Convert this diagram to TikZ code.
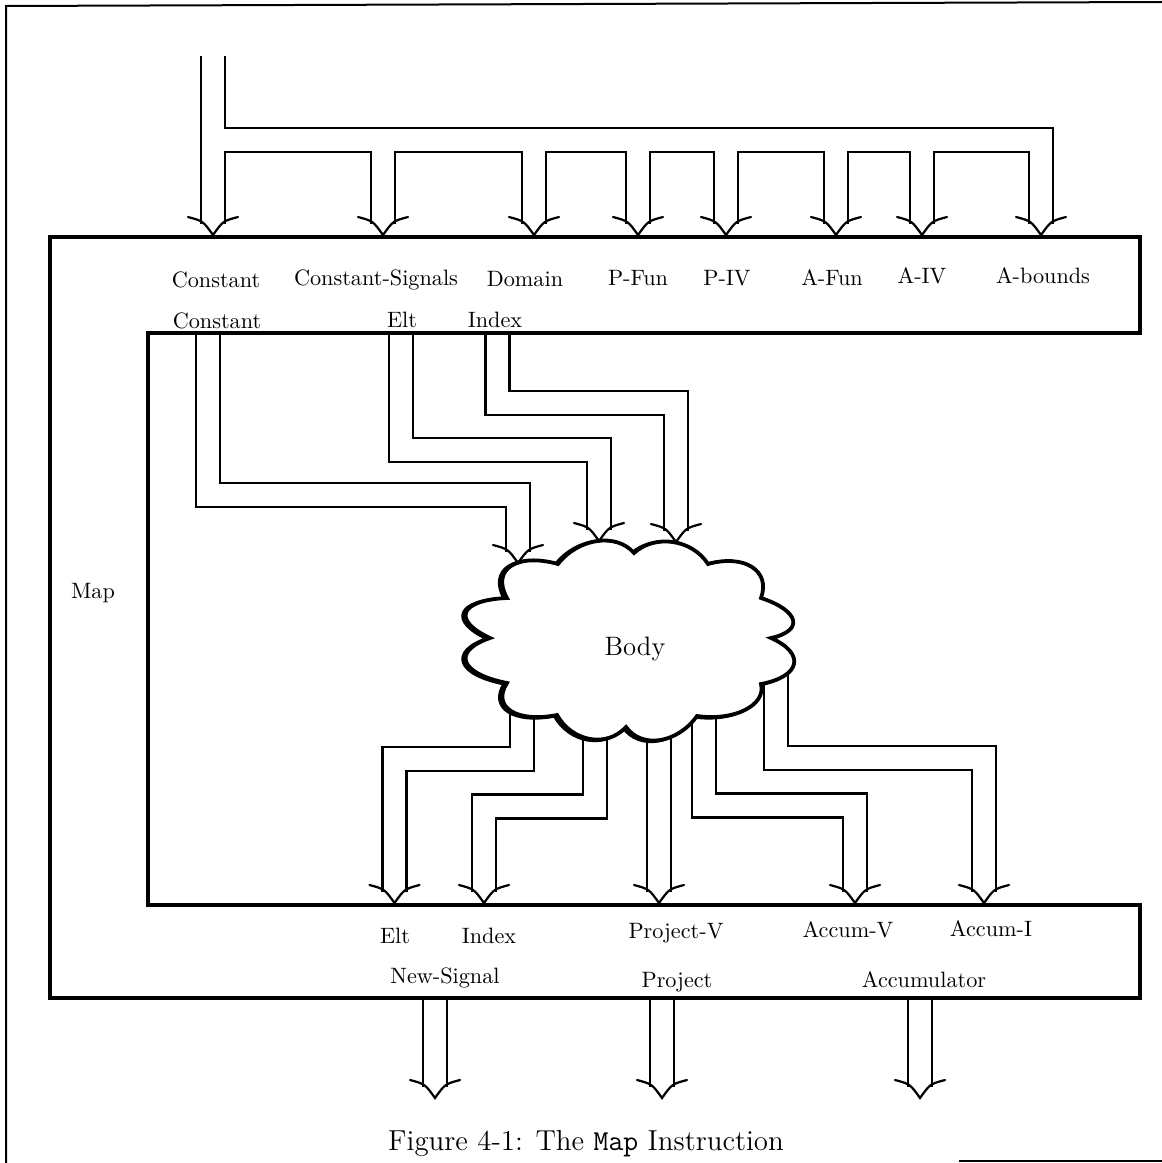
\documentclass[tikz,border=0pt]{standalone}
\usepackage{tikz}
\usetikzlibrary{calc}

\begin{document}
\begin{tikzpicture}[x=0.45pt, y=-0.45pt,
    lab/.style={anchor=base},
    pipeout/.style={line width=11.8pt, shorten >=5pt},
    pipein/.style={line width=9.8pt, white, shorten >=5pt},
    boxline/.style={line width=1.8pt},
    cloudline/.style={line width=1.7pt, fill=white,
        preaction={draw, line width=1.7pt,
                   transform canvas={xshift=-1.1pt, yshift=-0.3pt}}},
    headline/.style={line width=1pt, line cap=round},
    frame/.style={line width=0.9pt},
    vhead/.pic={\draw[headline] (-25,-18) .. controls (-10,-14) .. (0,0)
                                .. controls (10,-14) .. (25,-18);}]
    \useasboundingbox (0,0) rectangle (1162,1163);

    % Scan frame
    \draw[frame] (6,1163) -- (6,6) -- (1162,2);
    \draw[frame] (959,1161) -- (1162,1161);

    % Pipe ends
    \coordinate (src) at (213,56);
    \coordinate (t-cst) at (213,235);
    \coordinate (t-csig) at (383,235);
    \coordinate (t-dom) at (534,235);
    \coordinate (t-pfun) at (638,235);
    \coordinate (t-piv) at (726,235);
    \coordinate (t-afun) at (836,235);
    \coordinate (t-aiv) at (922,235);
    \coordinate (t-abnd) at (1041,235);

    \coordinate (s-cst) at (208,333);
    \coordinate (s-elt) at (401,333);
    \coordinate (s-idx) at (497.5,333);
    \coordinate (b-cst) at (518,563);
    \coordinate (b-elt) at (599,541);
    \coordinate (b-idx) at (676,542);

    \coordinate (o-elt) at (522,695);
    \coordinate (o-idx) at (595,715);
    \coordinate (o-prj) at (659,715);
    \coordinate (o-accv) at (704,700);
    \coordinate (o-acci) at (776,668);
    \coordinate (e-elt) at (394.5,903);
    \coordinate (e-idx) at (484,903);
    \coordinate (e-prj) at (659,903);
    \coordinate (e-accv) at (855,903);
    \coordinate (e-acci) at (984,903);

    \coordinate (x-new) at (435,998);
    \coordinate (x-prj) at (662,998);
    \coordinate (x-acc) at (920,998);
    \coordinate (y-new) at (435,1098);
    \coordinate (y-prj) at (662,1098);
    \coordinate (y-acc) at (920,1098);

    % Pipes: black first, then white inside
    \foreach \s in {pipeout,pipein} {
        \draw[\s] (src) -- (t-cst);
        \draw[\s] (src) ++(0,84) -| (t-abnd);
        \foreach \t in {t-csig,t-dom,t-pfun,t-piv,t-afun,t-aiv}
            \draw[\s] (\t) ++(0,-95) -- (\t);

        \draw[\s] (s-cst) -- ++(0,162) -| (b-cst);
        \draw[\s] (s-elt) -- ++(0,117) -| (b-elt);
        \draw[\s] (s-idx) -- ++(0,70) -| (b-idx);

        \draw[\s] (o-elt) -- ++(0,64) -| (e-elt);
        \draw[\s] (o-idx) -- ++(0,91.5) -| (e-idx);
        \draw[\s] (o-prj) -- (e-prj);
        \draw[\s] (o-accv) -- ++(0,105.5) -| (e-accv);
        \draw[\s] (o-acci) -- ++(0,90) -| (e-acci);

        \draw[\s] (x-new) -- (y-new);
        \draw[\s] (x-prj) -- (y-prj);
        \draw[\s] (x-acc) -- (y-acc);
    }

    % Map box
    \draw[boxline] (50,237) -- (1140,237) -- (1140,333) -- (148,333)
        -- (148,905) -- (1140,905) -- (1140,998) -- (50,998) -- cycle;

    % Body cloud
    \draw[cloudline] (507,598) .. controls (491,569.5) and (516.5,552.5) .. (558,564)
        .. controls (578.3,538) and (616.3,532.5) .. (634,553)
        .. controls (655.2,533.8) and (692.2,539.3) .. (708,564)
        .. controls (744.5,553.8) and (771,570.8) .. (761,598)
        .. controls (799.5,610.7) and (804.5,630.7) .. (771,638)
        .. controls (805.8,653.5) and (800.8,676.5) .. (761,684)
        .. controls (766.3,705.3) and (734.3,721.3) .. (697,716)
        .. controls (677.3,743.5) and (641.8,749) .. (626,727)
        .. controls (606.8,748) and (572.3,742) .. (557,715)
        .. controls (516.5,723) and (491.5,707) .. (507,683)
        .. controls (459.8,673.8) and (451.3,651.3) .. (490,638)
        .. controls (451.3,620) and (459.8,600) .. (507,598) -- cycle;
    \node[lab, font=\large] (body) at (635,655) {Body};

    % Arrow heads
    \foreach \t in {t-cst,t-csig,t-dom,t-pfun,t-piv,t-afun,t-aiv,t-abnd,
                    b-cst,b-elt,b-idx,e-elt,e-idx,e-prj,e-accv,e-acci,
                    y-new,y-prj,y-acc}
        \pic at (\t) {vhead};

    % Labels
    \node[lab] (cst) at (216,287) {Constant};
    \node[lab] (csig) at (376,285) {Constant-Signals};
    \node[lab] (dom) at (525,286) {Domain};
    \node[lab] (pfun) at (638,285) {P-Fun};
    \node[lab] (piv) at (727,285) {P-IV};
    \node[lab] (afun) at (832,285) {A-Fun};
    \node[lab] (aiv) at (922,283) {A-IV};
    \node[lab] (abnd) at (1043,283) {A-bounds};

    \node[lab] (cst2) at (217,328) {Constant};
    \node[lab] (elt) at (402,327) {Elt};
    \node[lab] (idx) at (495,327) {Index};

    \node[lab] (map) at (93,598) {Map};

    \node[lab] (elto) at (395,943) {Elt};
    \node[lab] (idxo) at (489,943) {Index};
    \node[lab] (projv) at (676,938) {Project-V};
    \node[lab] (accv) at (848,937) {Accum-V};
    \node[lab] (acci) at (991,936) {Accum-I};
    \node[lab] (newsig) at (445,983) {New-Signal};
    \node[lab] (proj) at (677,987) {Project};
    \node[lab] (accum) at (924,987) {Accumulator};

    % Caption
    \node[lab, font=\fontsize{13}{15}\selectfont] (cap) at (586,1150)
        {Figure 4-1: The \texttt{Map} Instruction};
\end{tikzpicture}
\end{document}
